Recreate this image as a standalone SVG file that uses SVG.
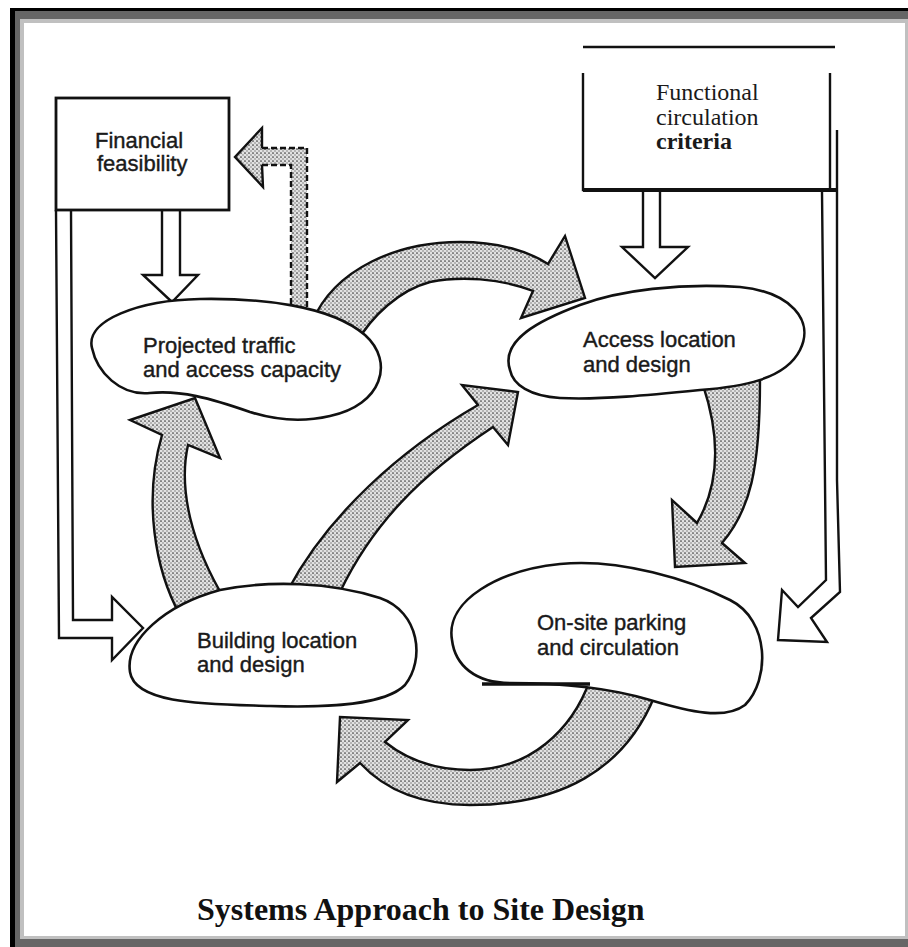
<svg xmlns="http://www.w3.org/2000/svg" width="908" height="947" viewBox="0 0 908 947">
<defs>
<pattern id="dots" width="4" height="4" patternUnits="userSpaceOnUse">
<rect width="4" height="4" fill="#e2e2e2"/>
<circle cx="1" cy="1" r="0.85" fill="#3a3a3a"/>
<circle cx="3" cy="3" r="0.7" fill="#666"/>
</pattern>
<style>
.blob{fill:#fff;stroke:#111;stroke-width:2.6;stroke-linejoin:round}
.shade{fill:url(#dots);stroke:#111;stroke-width:2.4;stroke-linejoin:miter}
.hollow{fill:#fff;stroke:#111;stroke-width:2.4;stroke-linejoin:miter}
.line{fill:none;stroke:#111;stroke-width:2.4}
.box{fill:#fff;stroke:#111;stroke-width:2.8}
.lbl{font-family:"Liberation Sans",Arial,sans-serif;font-size:22px;fill:#1a1a1a;stroke:#1a1a1a;stroke-width:0.4}
.ser{font-family:"Liberation Serif","Times New Roman",serif;font-size:24px;fill:#1a1a1a}
.title{font-family:"Liberation Serif","Times New Roman",serif;font-size:32px;font-weight:bold;fill:#111}
</style>
</defs>

<!-- frame -->
<rect x="10" y="8" width="898" height="939" fill="#666"/>
<rect x="10" y="8" width="5" height="939" fill="#000"/>
<rect x="10" y="8" width="898" height="3" fill="#000"/>
<rect x="20" y="19" width="888" height="920" fill="#c0c0c0"/>
<rect x="24" y="23" width="881" height="913" fill="#fff"/>

<g id="connectors">
<!-- Financial -> Building (hollow routed arrow) -->
<path class="hollow" d="M71,210 L73,620 L112,620 L112,597 L143,628 L112,660 L112,638 L59,638 L56,210"/>
<!-- Financial -> Projected -->
<path class="hollow" d="M162,209 L162,275 L143,275 L172,302 L198,275 L180,275 L180,209"/>
<!-- Functional -> Access -->
<path class="hollow" d="M643,189 L643,247 L622,247 L655,278 L688,247 L660,247 L660,189"/>
<!-- Functional -> On-site (right routed arrow) -->
<path class="hollow" d="M837,130 L837,480 L840,592 L811,618 L827,642 L778,640 L782,590 L798,607 L826,580 L822,192"/>
<!-- Projected -> Financial (dashed shaded) -->
<path d="M291,318 L291,165 L262,165 L263,187 L235,157 L262,128 L262,148 L307,148 L307,318 Z" fill="url(#dots)" stroke="none"/>
<path class="line" d="M262,148 L262,128 L235,157 L263,187 L262,165"/>
<path class="line" stroke-dasharray="6,3" d="M262,148 L307,148 L307,318 M262,165 L291,165 L291,318"/>
<!-- Projected -> Access -->
<path class="shade" d="M312,322 C335,268 398,242 460,242 C500,242 530,252 548,264 L565,236 L585,298 L521,318 L533,291 C500,278 460,276 430,282 C400,290 372,315 355,345 Z"/>
<!-- Access -> On-site -->
<path class="shade" d="M703,385 C718,430 722,480 697,523 L672,500 L675,567 L745,563 L722,543 C750,510 760,470 760,380 Z"/>
<!-- On-site -> Building -->
<path class="shade" d="M655,695 C625,770 560,805 470,805 C420,805 385,790 360,763 L337,782 L340,717 L408,720 L385,742 C410,762 440,770 470,770 C530,770 572,730 590,680 Z"/>
<!-- Building -> Projected -->
<path class="shade" d="M180,615 C155,570 143,500 162,435 L130,420 L195,398 L220,458 L188,445 C178,490 192,545 225,600 Z"/>
<!-- Building -> Access -->
<path class="shade" d="M288,590 C328,515 400,450 478,405 L462,385 L518,392 L508,445 L493,427 C420,475 372,525 340,592 Z"/>
</g>

<g id="financial">
<rect class="box" x="56" y="98" width="173" height="112"/>
<text class="lbl" x="95" y="148">Financial</text>
<text class="lbl" x="97" y="171">feasibility</text>
</g>

<g id="functional">
<line class="line" x1="583" y1="47" x2="835" y2="47"/>
<path class="line" d="M583,73 L583,190 L838,190 M830,73 L830,190"/>
<line x1="583" y1="190" x2="838" y2="190" stroke="#111" stroke-width="4"/>
<text class="ser" x="656" y="100">Functional</text>
<text class="ser" x="656" y="125">circulation</text>
<text class="ser" x="656" y="149" font-weight="bold">criteria</text>
</g>

<g id="projected">
<path class="blob" d="M92,348 C85,320 140,300 200,299 C260,298 330,305 365,335 C395,362 382,405 330,416 C300,423 275,420 250,412 C210,398 180,390 150,393 C120,396 97,372 92,348 Z"/>
<text class="lbl" x="143" y="353">Projected traffic</text>
<text class="lbl" x="143" y="377">and access capacity</text>
</g>

<g id="access">
<path class="blob" d="M510,370 C500,340 540,320 580,305 C620,290 680,283 740,287 C790,292 815,320 800,350 C785,380 740,387 700,390 C650,395 600,400 560,398 C530,396 513,385 510,370 Z"/>
<text class="lbl" x="583" y="347">Access location</text>
<text class="lbl" x="583" y="372">and design</text>
</g>

<g id="building">
<path class="blob" d="M130,672 C125,640 165,605 220,590 C270,580 330,582 380,598 C420,612 425,660 405,685 C385,705 330,708 270,706 C210,704 135,705 130,672 Z"/>
<text class="lbl" x="197" y="648">Building location</text>
<text class="lbl" x="197" y="672">and design</text>
</g>

<g id="onsite">
<path class="blob" d="M452,640 C445,600 500,570 560,564 C620,558 690,580 730,600 C770,620 770,680 745,705 C725,720 690,712 650,700 C610,688 560,683 510,683 C475,683 455,665 452,640 Z"/>
<line x1="482" y1="684" x2="590" y2="684" stroke="#111" stroke-width="3.5"/>
<text class="lbl" x="537" y="630">On-site parking</text>
<text class="lbl" x="537" y="655">and circulation</text>
</g>

<text class="title" x="197" y="920">Systems Approach to Site Design</text>
</svg>
